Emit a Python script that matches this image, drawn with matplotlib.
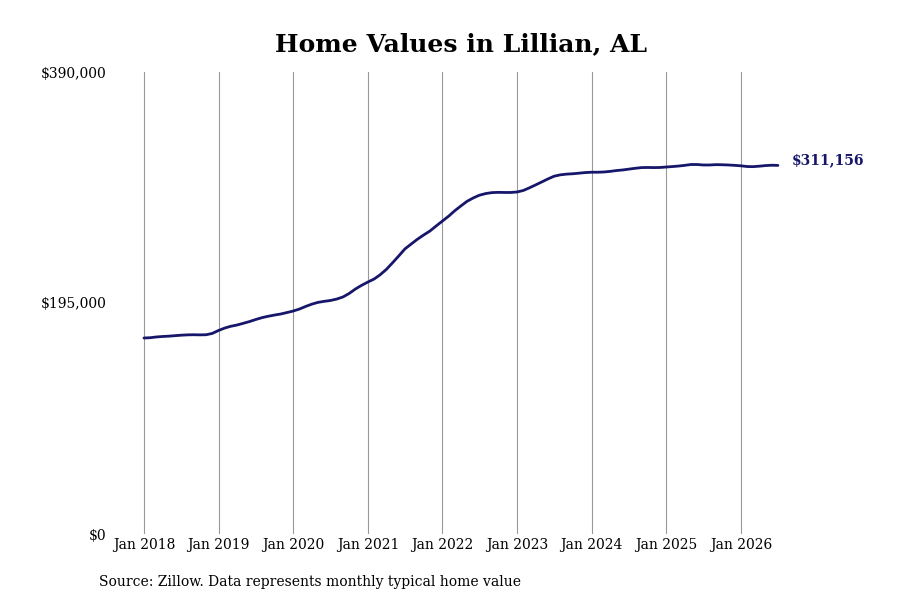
import pandas as pd
import matplotlib
matplotlib.use('Agg')
from matplotlib import pyplot as plt
from matplotlib.ticker import FuncFormatter

plt.rcParams['font.family'] = 'DejaVu Serif'

# Monthly typical home value, Jan 2018 - Jul 2026
values = [
    165455, 165700, 166300, 166720, 167000, 167400, 167800, 168100, 168200, 168100, 168200, 169300,
    171800, 173900, 175300, 176400, 177800, 179300, 181000, 182600, 183800, 184800, 185700, 186900,
    188200, 189900, 192000, 194000, 195500, 196400, 197100, 198300, 200100, 203000, 206800, 209900,
    212700, 215300, 218700, 223300, 228800, 234700, 240600, 244800, 248900, 252400, 255800, 260000,
    264200, 268400, 272700, 276900, 280800, 283700, 286000, 287400, 288200, 288400, 288300, 288300,
    288700, 290000, 292100, 294600, 297100, 299700, 302000, 303200, 303800, 304100, 304600, 305100,
    305400, 305400, 305600, 306100, 306800, 307300, 308000, 308700, 309300, 309400, 309300, 309400,
    309800, 310200, 310600, 311200, 311900, 311900, 311500, 311500, 311800, 311700, 311500, 311200,
    310800, 310200, 310100, 310500, 311000, 311300, 311156,
]
dates = pd.date_range('2018-01-01', periods=len(values), freq='MS')

year_ticks = pd.date_range('2018-01-01', '2026-01-01', freq='YS')
tick_labels = [d.strftime('Jan %Y') for d in year_ticks]
y_ticks = [0, 195000, 390000]

line_color = '#16166a'

fig, ax = plt.subplots(figsize=(9, 6), dpi=100)
ax.plot(dates, values, color=line_color, linewidth=2, solid_capstyle='round')

# label on the last point
ax.annotate(f"${values[-1]:,}", xy=(dates[-1], values[-1]), xytext=(10, 4),
            textcoords='offset points', va='center', ha='left',
            fontsize=10, fontweight='bold', color=line_color)

ax.set_xticks(year_ticks)
ax.set_xticklabels(tick_labels)
ax.set_xlim(pd.Timestamp('2017-07-31'), pd.Timestamp('2026-12-05'))
ax.set_ylim(0, 390000)
ax.set_yticks(y_ticks)
ax.yaxis.set_major_formatter(FuncFormatter(lambda v, p: f"${v:,.0f}"))

ax.grid(axis='x', color='#999999', linewidth=0.8)
ax.set_axisbelow(True)
for s in ax.spines.values():
    s.set_visible(False)
ax.tick_params(axis='both', length=0, labelsize=10)
ax.tick_params(axis='y', pad=4.5)
ax.tick_params(axis='x', pad=3)

ax.set_title("Home Values in Lillian, AL", fontsize=18, fontweight='bold', pad=15)
fig.text(0.11, 0.03, "Source: Zillow. Data represents monthly typical home value",
         fontsize=10, va='center', ha='left')

plt.savefig('out.png', dpi=100)
